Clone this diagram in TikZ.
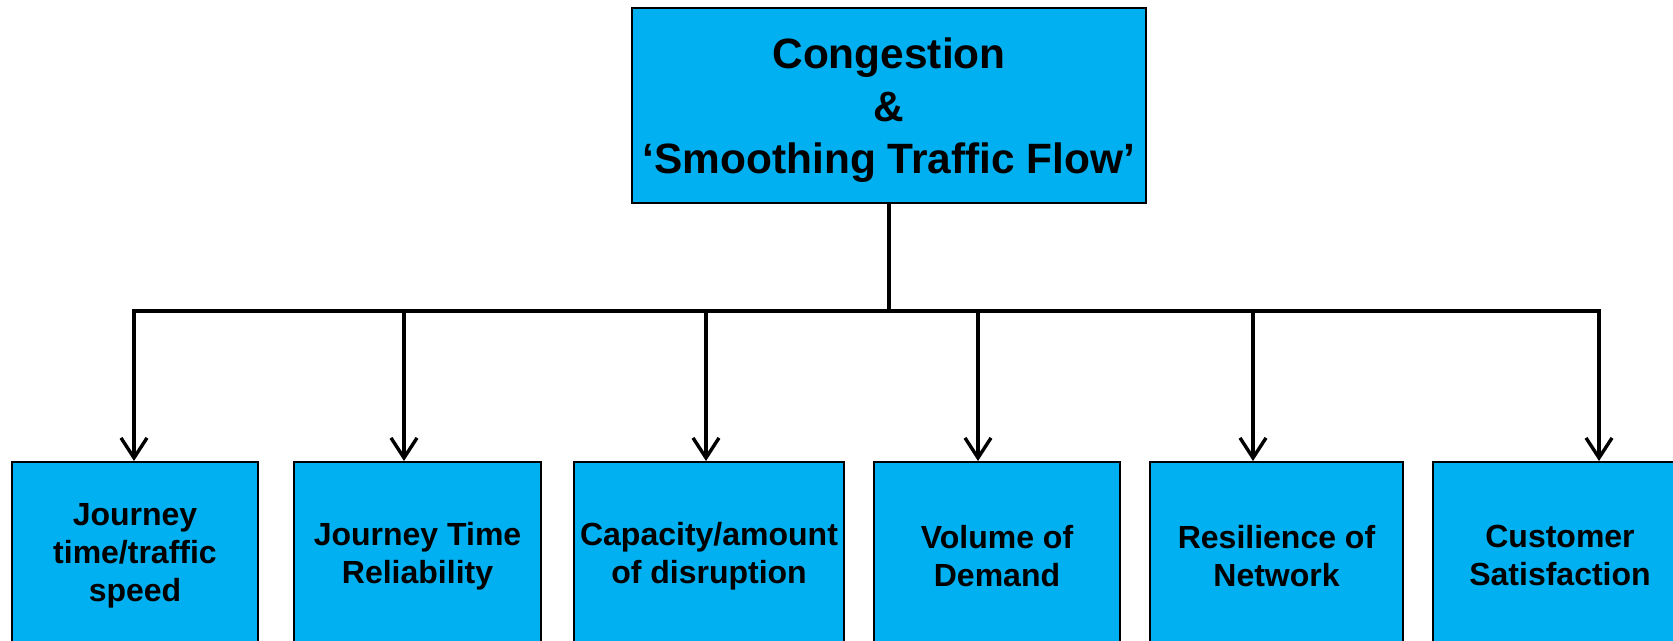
\documentclass[tikz,border=0pt]{standalone}
\usepackage{fontspec}
\setmainfont{Liberation Sans}
\usepackage{xcolor}
\usetikzlibrary{arrows.meta, positioning}

\definecolor{boxblue}{RGB}{0,176,240}

\tikzset{
    topbox/.style={draw=black, line width=0.8pt, fill=boxblue, inner sep=0pt,
        minimum width=257pt, minimum height=97.5pt, align=center,
        font=\bfseries\fontsize{21.2}{26.3}\selectfont},
    subbox/.style={draw=black, line width=0.8pt, fill=boxblue, inner sep=0pt,
        minimum height=94pt, align=center, anchor=north,
        font=\bfseries\fontsize{16}{19}\selectfont},
    busline/.style={line width=1.7pt},
    link/.style={line width=1.7pt, -{Straight Barb[length=10pt, width=13pt]}}
}

\begin{document}
\begin{tikzpicture}[x=0.5pt, y=-0.5pt]
    \useasboundingbox (0,0) rectangle (1673,641);
    \clip (0,0) rectangle (1673,641);

    \node[topbox] (cong) at (889,105.5) {\rule{0pt}{20pt}Congestion\\\&\\‘Smoothing Traffic Flow’};

    \coordinate (busL) at (134,311);
    \coordinate (busR) at (1599,311);
    \draw[busline] (cong.south) -- (cong.south |- busL);
    \draw[busline, line cap=rect] (busL) -- (busR);

    \foreach \n/\cx/\w/\ax/\txt in {
        jtime/135/123/134/{Journey\\time/traffic\\speed},
        jrel/417.5/123.5/404/{Journey Time\\Reliability},
        cap/709/135/706/{Capacity/amount\\of disruption},
        vol/997/123/978/{Volume of\\Demand},
        res/1276.5/126.5/1253/{Resilience of\\Network},
        cust/1560/127/1599/{Customer\\Satisfaction}} {
        \node[subbox, minimum width=\w pt] (\n) at (\cx,461) {\txt};
        \coordinate (b\n) at (\ax,311);
        \draw[link] (b\n) -- (b\n |- \n.north);
    }
\end{tikzpicture}
\end{document}
